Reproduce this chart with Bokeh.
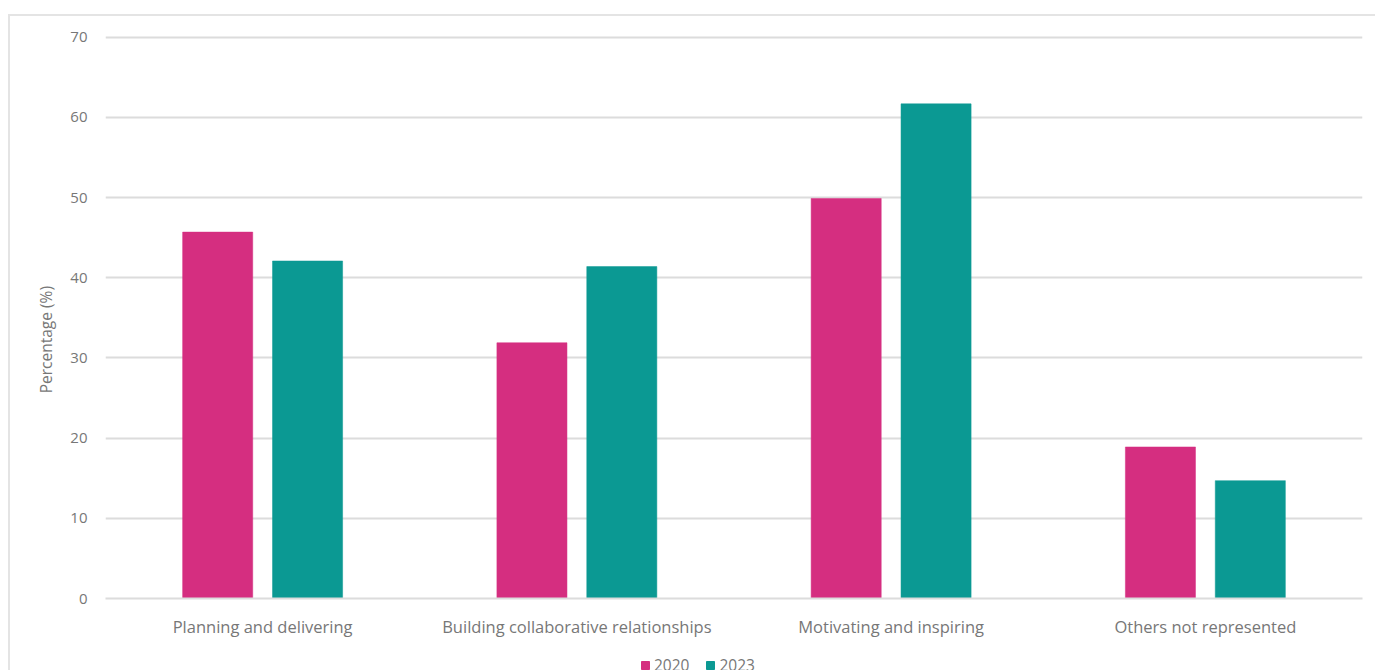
from bokeh.plotting import figure
from bokeh.layouts import column
from bokeh.models import (FactorRange, Range1d, Legend, LegendItem, ColumnDataSource,
                          InlineStyleSheet)
from bokeh.transform import dodge
from bokeh.embed import file_html
from bokeh.resources import INLINE

categories = ["Planning and delivering", "Building collaborative relationships",
              "Motivating and inspiring", "Others not represented"]
values_2020 = [45.7, 31.9, 49.9, 18.9]
values_2023 = [42.1, 41.4, 61.7, 14.7]
series_names = ["2020", "2023"]
y_ticks = [0, 10, 20, 30, 40, 50, 60, 70]

PINK = "#D52E80"
TEAL = "#0B9993"
GRID = "#DCDCDC"
TXT = "#777777"
FONT = "Open Sans"

src = ColumnDataSource(dict(cat=categories, v2020=values_2020, v2023=values_2023))

p = figure(width=1375, height=650, x_range=FactorRange(*categories, range_padding=0),
           y_range=Range1d(0, 70.6), output_backend="svg", toolbar_location=None,
           min_border_left=105, min_border_right=13, min_border_top=32, min_border_bottom=52)

r1 = p.vbar(x=dodge("cat", -0.143, range=p.x_range), top="v2020", width=0.223, source=src,
            fill_color=PINK, line_color=PINK, line_alpha=0.5)
r2 = p.vbar(x=dodge("cat", 0.143, range=p.x_range), top="v2023", width=0.223, source=src,
            fill_color=TEAL, line_color=TEAL, line_alpha=0.5)

p.outline_line_color = None
p.xgrid.grid_line_color = None
p.ygrid.grid_line_color = GRID
p.ygrid.grid_line_width = 2
p.yaxis.ticker = y_ticks
p.yaxis.axis_line_color = None
p.yaxis.major_tick_line_color = None
p.yaxis.minor_tick_line_color = None
p.yaxis.major_label_standoff = 12
p.yaxis.major_label_text_font = FONT
p.yaxis.major_label_text_font_size = "15px"
p.yaxis.major_label_text_color = TXT
p.yaxis.axis_label = "Percentage (%)" + "\u00a0" * 12
p.yaxis.axis_label_text_font = FONT
p.yaxis.axis_label_text_font_size = "15.5px"
p.yaxis.axis_label_text_font_style = "normal"
p.yaxis.axis_label_text_color = TXT
p.yaxis.axis_label_standoff = 10

p.xaxis.axis_line_color = GRID
p.xaxis.axis_line_width = 2
p.xaxis.major_tick_line_color = None
p.xaxis.minor_tick_line_color = None
p.xaxis.major_label_standoff = 10
p.xaxis.major_label_text_font = FONT
p.xaxis.major_label_text_font_size = "16.5px"
p.xaxis.major_label_text_color = TXT

# legend strip at the bottom (cut off by the window edge, as in the reference)
lf = figure(width=1375, height=20, x_range=Range1d(0, 1375), y_range=Range1d(0, 20),
            x_axis_type=None, y_axis_type=None, output_backend="svg", toolbar_location=None,
            min_border_left=0, min_border_right=0, min_border_top=0, min_border_bottom=0)
lf.outline_line_color = None
# off-screen legend proxies (zero-height, outside the visible range)
d1 = lf.vbar(x=[-1000], top=[0], width=1, fill_color=PINK, line_color=PINK)
d2 = lf.vbar(x=[-1000], top=[0], width=1, fill_color=TEAL, line_color=TEAL)
legend = Legend(items=[LegendItem(label=series_names[0], renderers=[d1]),
                       LegendItem(label=series_names[1], renderers=[d2])],
                location=(535, -6), orientation="horizontal",
                padding=0, margin=0, spacing=16, label_standoff=4,
                glyph_width=10, glyph_height=10, label_height=14,
                label_text_font=FONT, label_text_font_size="15.5px", label_text_color=TXT,
                background_fill_alpha=0, border_line_color=None)
lf.add_layout(legend, "center")

root = column(p, lf, spacing=0)
root.stylesheets = [InlineStyleSheet(css=(
    ":host::after { content: ''; position: absolute; left: 8px; top: 14px; right: 0; bottom: 0;"
    " border-top: 2px solid #E4E4E4; border-left: 2px solid #E4E4E4; pointer-events: none; }"))]

open("out.html", "w").write(file_html(root, INLINE))
